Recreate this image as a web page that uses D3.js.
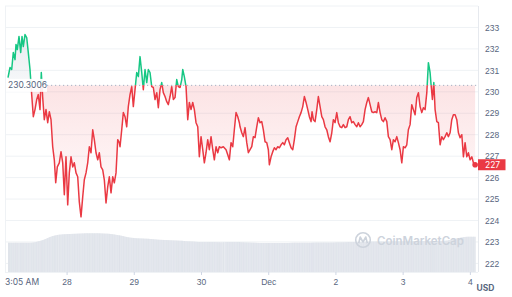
<!DOCTYPE html>
<html>
<head>
<meta charset="utf-8">
<script src="https://cdn.jsdelivr.net/npm/d3@7"></script>
<style>
  html, body { margin: 0; padding: 0; background: #fff; }
  svg { display: block; font-family: Inter, "Noto Sans", sans-serif; }
</style>
</head>
<body>
<script>
// price samples, hours after 27 Nov 03:05
const priceHours = [
  0,0.36,0.71,1.32,1.89,2.5,2.86,3.32,3.93,4.54,5.0,5.46,6.07,6.68,7.25,7.86,8.46,9.04,9.64,10.25,
  10.82,11.43,11.89,12.39,12.96,13.57,14.18,14.75,15.36,15.96,16.54,17.04,17.61,18.32,18.93,19.54,20.11,20.71,21.32,21.89,
  22.5,23.11,23.68,24.29,24.89,25.46,26.07,26.68,27.25,27.86,28.46,29.04,29.64,30.25,30.82,31.43,32.04,32.61,33.21,33.82,
  34.39,35.0,35.61,36.18,36.79,37.39,37.96,38.57,39.18,39.75,
  40.0,40.61,41.18,41.79,42.39,42.96,43.57,44.18,44.75,45.36,45.96,46.54,47.14,47.75,48.32,48.93,49.54,50.11,50.71,51.32,
  51.89,52.5,53.11,53.68,54.29,54.89,55.46,56.07,56.68,57.25,57.86,58.46,59.04,59.64,60.25,60.82,61.43,62.04,62.39,62.96,
  63.57,64.18,64.75,65.36,65.96,66.54,67.14,67.75,68.32,68.93,69.54,70.11,70.71,71.32,71.89,72.5,73.11,73.68,74.29,74.89,
  75.46,76.07,76.89,77.86,78.46,79.04,79.64,80.25,80.82,81.43,82.04,82.61,
  82.86,83.46,84.04,84.64,85.25,85.82,86.43,87.04,87.61,88.21,88.82,89.39,90.0,90.61,91.18,91.79,92.39,92.96,93.32,93.93,
  94.54,95.11,95.71,96.32,96.89,97.5,98.11,98.68,99.29,99.89,100.46,101.07,101.68,102.25,102.86,103.46,104.04,104.64,105.25,105.82,
  106.43,107.04,107.61,108.21,108.57,109.04,109.64,110.25,110.82,111.43,112.04,112.61,113.21,113.82,114.39,115.0,115.61,116.18,116.79,117.39,
  117.96,118.57,119.18,119.75,120.36,120.96,121.54,122.14,122.75,123.32,
  123.93,124.54,125.11,125.71,126.32,126.89,127.5,128.11,128.68,129.29,129.89,130.46,131.07,131.68,132.25,132.86,133.46,134.04,134.64,135.25,
  135.82,136.43,137.04,137.61,138.21,138.82,139.39,140.0,140.61,141.18,141.79,142.39,142.96,143.57,144.18,144.75,145.36,145.96,146.54,147.14,
  147.75,148.32,148.93,149.54,150.11,150.71,151.07,151.54,152.04,152.5,153.11,153.68,154.29,154.89,155.46,156.07,156.68,157.25,157.86,158.46,
  159.04,159.64,160.25,160.82,161.43,162.04,162.61,163.21,163.82,164.39,165.0,165.61,166.18,166.79
];
const prices = [
  230.66,230.90,231.13,231.04,231.83,231.50,232.21,231.97,232.58,231.83,232.58,232.11,232.67,232.53,231.83,231.04,229.87,228.84,229.17,229.64,
  229.87,229.17,230.90,229.73,228.70,229.17,228.56,229.07,228.70,227.44,226.83,225.76,226.50,226.69,227.21,226.69,225.20,226.97,224.73,226.22,
  226.97,226.50,226.69,226.22,226.04,224.87,224.17,225.10,225.90,226.22,226.69,227.44,227.16,228.23,227.77,227.16,226.83,227.16,226.50,226.36,
  225.90,224.82,225.57,226.04,225.29,226.04,225.76,226.22,227.77,227.63,
  227.44,228.23,229.03,228.84,228.37,229.31,229.87,230.24,229.31,230.10,230.90,230.71,231.64,230.90,230.10,231.04,230.43,231.04,230.90,230.24,
  230.20,229.64,229.96,229.26,230.10,230.43,229.96,229.78,229.54,229.40,229.78,230.24,229.64,229.73,230.57,230.24,230.20,230.57,231.04,230.71,
  230.24,228.70,229.50,229.17,229.50,229.17,228.56,228.37,226.97,227.91,227.30,226.69,227.16,227.77,227.30,227.91,227.30,226.83,227.44,227.16,
  227.44,227.39,227.44,227.30,227.07,226.83,227.63,227.44,228.23,229.03,228.84,228.56,
  228.37,228.09,227.91,228.33,227.63,227.16,227.30,227.44,227.91,227.86,228.37,228.79,228.56,228.61,228.23,227.67,227.63,227.30,226.60,226.97,
  227.21,227.39,227.30,227.44,227.39,227.53,227.63,227.53,227.77,227.86,227.63,227.39,227.30,227.77,228.37,228.61,228.84,229.03,229.31,229.78,
  229.50,229.17,228.84,228.61,229.07,228.70,228.61,229.17,229.78,229.31,228.84,228.70,228.37,228.23,227.91,227.67,228.09,228.70,228.56,229.03,
  228.56,228.37,228.33,228.47,228.33,228.37,228.70,228.84,228.56,228.61,
  228.47,228.37,228.56,228.37,228.47,228.61,229.17,229.50,229.73,229.40,229.07,229.03,229.07,229.03,229.50,229.03,228.70,228.61,228.79,228.61,
  227.91,227.77,227.30,227.77,227.67,227.91,227.63,227.30,226.69,227.44,227.39,227.53,228.23,228.47,229.40,229.17,228.93,229.73,229.96,229.31,
  229.03,229.26,229.17,229.96,231.36,230.90,230.33,229.64,230.43,229.17,228.61,228.56,227.53,227.91,227.77,227.91,228.09,227.91,228.09,228.70,
  228.93,228.93,228.70,228.09,227.86,228.00,226.97,227.63,226.97,227.16,226.83,226.97,226.69,226.60
];
// 24h volume (millions), hours after start
const volHours = [0,4,8,12,16,20,24,28,32,36,40,44,48,52,56,60,64,68,72,76,80,84,88,92,96,100,104,108,112,116,120,124,128,132,136,140,144,148,152,156,160,164,167];
const volumes = [293,293,293,315,360,378,382,387,387,382,365,342,335,328,320,314,307,301,299,298,300,297,292,290,290,290,292,293,294,295,297,299,302,304,305,307,308,309,310,312,335,353,353];
const yTicks = [222,223,224,225,226,227,228,229,230,231,232,233];
const gridValues = [222,223,224,225,226,227,228,229,230,231,232,233,234];
const basePrice = 230.3006;

const width = 512, height = 297;
const plotLeft = 5, plotRight = 478, plotTop = 6, plotBottom = 272;
const hour = 3600e3;
const startTime = new Date(2023, 10, 27, 3, 5);
const endTime = new Date(+startTime + 168 * hour);

const green = "#16c784", red = "#ea3943", textGrey = "#58667e";

const x = d3.scaleTime().domain([startTime, endTime]).range([8, 478.5]);
const y = d3.scaleLinear().domain([221.6, 234]).range([plotBottom, plotTop]);
const yVol = d3.scaleLinear().domain([0, 400]).range([plotBottom, 232]);

const points = prices.map((v, i) => ({ t: new Date(+startTime + priceHours[i] * hour), v: v }));
const volPoints = volumes.map((v, i) => ({ t: new Date(+startTime + volHours[i] * hour), v: v }));
const yBase = y(basePrice);

const svg = d3.select("body").append("svg")
  .attr("width", width)
  .attr("height", height);

const defs = svg.append("defs");
defs.append("clipPath").attr("id", "above")
  .append("rect").attr("x", 0).attr("y", 0).attr("width", width).attr("height", yBase);
defs.append("clipPath").attr("id", "below")
  .append("rect").attr("x", 0).attr("y", yBase).attr("width", width).attr("height", height - yBase);

const gAbove = defs.append("linearGradient").attr("id", "fillAbove")
  .attr("gradientUnits", "userSpaceOnUse").attr("x1", 0).attr("x2", 0).attr("y1", plotTop).attr("y2", yBase);
gAbove.append("stop").attr("offset", 0).attr("stop-color", "#b9c2d0").attr("stop-opacity", 0.4);
gAbove.append("stop").attr("offset", 1).attr("stop-color", "#b9c2d0").attr("stop-opacity", 0.12);

const gBelow = defs.append("linearGradient").attr("id", "fillBelow")
  .attr("gradientUnits", "userSpaceOnUse").attr("x1", 0).attr("x2", 0).attr("y1", yBase).attr("y2", 225);
gBelow.append("stop").attr("offset", 0).attr("stop-color", red).attr("stop-opacity", 0.14);
gBelow.append("stop").attr("offset", 1).attr("stop-color", red).attr("stop-opacity", 0);

// grid
svg.append("g").selectAll("line")
  .data(gridValues)
  .enter().append("line")
  .attr("x1", plotLeft).attr("x2", plotRight)
  .attr("y1", d => y(d)).attr("y2", d => y(d))
  .attr("stroke", "#eff2f5").attr("stroke-width", 1);

svg.append("line")
  .attr("x1", plotLeft + 0.5).attr("x2", plotLeft + 0.5)
  .attr("y1", plotTop).attr("y2", plotBottom)
  .attr("stroke", "#eff2f5");

// volume
const volArea = d3.area()
  .x(d => x(d.t))
  .y0(plotBottom)
  .y1(d => yVol(d.v))
  .curve(d3.curveMonotoneX);

defs.append("clipPath").attr("id", "volClip")
  .append("path").attr("d", volArea(volPoints));

svg.append("path")
  .attr("d", volArea(volPoints))
  .attr("fill", "#e8ebf0");

svg.append("g").attr("clip-path", "url(#volClip)")
  .selectAll("line")
  .data(points)
  .enter().append("line")
  .attr("x1", d => x(d.t)).attr("x2", d => x(d.t))
  .attr("y1", 225).attr("y2", plotBottom)
  .attr("stroke", "#d8dde5").attr("stroke-width", 0.6);

// watermark
const wm = svg.append("g").attr("transform", "translate(363,240)");
wm.append("circle").attr("r", 7.3).attr("fill", "none").attr("stroke", "#cdd3dc").attr("stroke-width", 1.6);
wm.append("path").attr("d", "M-4.3,3.2 L-2.8,-3 L0,2 L2.8,-3 L4.3,3.2")
  .attr("fill", "none").attr("stroke", "#cdd3dc").attr("stroke-width", 1.6).attr("stroke-linejoin", "round");
wm.append("text").attr("x", 14).attr("y", 4.5)
  .attr("font-size", 11.5).attr("font-weight", 600).attr("fill", "#cdd3dc")
  .text("CoinMarketCap");

// price fill and line
const area = d3.area().x(d => x(d.t)).y0(yBase).y1(d => y(d.v));
const line = d3.line().x(d => x(d.t)).y(d => y(d.v));

svg.append("path").attr("d", area(points)).attr("fill", "url(#fillAbove)").attr("clip-path", "url(#above)");
svg.append("path").attr("d", area(points)).attr("fill", "url(#fillBelow)").attr("clip-path", "url(#below)");

// baseline
svg.append("line")
  .attr("x1", 47).attr("x2", plotRight)
  .attr("y1", yBase).attr("y2", yBase)
  .attr("stroke", "#a6b0c3").attr("stroke-width", 1)
  .attr("stroke-dasharray", "1.2,2.8");

svg.append("path").attr("d", line(points)).attr("fill", "none")
  .attr("stroke", green).attr("stroke-width", 1.5).attr("stroke-linejoin", "round")
  .attr("clip-path", "url(#above)");
svg.append("path").attr("d", line(points)).attr("fill", "none")
  .attr("stroke", red).attr("stroke-width", 1.5).attr("stroke-linejoin", "round")
  .attr("clip-path", "url(#below)");

// baseline label
svg.append("rect")
  .attr("x", plotLeft + 1).attr("y", yBase - 6.5)
  .attr("width", 41).attr("height", 13)
  .attr("fill", "#fff").attr("fill-opacity", 0.92);
svg.append("text")
  .attr("x", 8).attr("y", yBase).attr("dy", "0.35em")
  .attr("font-size", 8.5).attr("fill", textGrey)
  .text(d3.format(".4f")(basePrice));

// right axis
svg.append("line")
  .attr("x1", plotRight + 0.5).attr("x2", plotRight + 0.5)
  .attr("y1", plotTop).attr("y2", plotBottom)
  .attr("stroke", "#e6e9ee");

const yAxis = svg.append("g")
  .attr("transform", `translate(${plotRight},0)`)
  .call(d3.axisRight(y).tickValues(yTicks).tickSize(0).tickPadding(7).tickFormat(d3.format("d")));
yAxis.select(".domain").remove();
yAxis.selectAll("text").attr("font-size", 8.5).attr("fill", textGrey).attr("font-family", null);

// bottom axis
const dayTicks = d3.timeDay.range(d3.timeDay.ceil(startTime), endTime);
const xAxis = svg.append("g")
  .attr("transform", `translate(0,${plotBottom})`)
  .call(d3.axisBottom(x).tickValues(dayTicks).tickSize(3).tickPadding(3.5)
    .tickFormat(d => d.getDate() === 1 ? d3.timeFormat("%b")(d) : d3.timeFormat("%-d")(d)));
xAxis.select(".domain").attr("stroke", "#eff2f5").attr("d", `M${plotLeft},0.5H${plotRight}`);
xAxis.selectAll(".tick line").attr("stroke", "#cfd6e4");
xAxis.selectAll("text").attr("font-size", 8.5).attr("fill", textGrey).attr("font-family", null);

svg.append("text")
  .attr("x", plotLeft).attr("y", 284.5)
  .attr("font-size", 8.5).attr("fill", textGrey)
  .text(d3.timeFormat("%-I:%M %p")(startTime));

svg.append("text")
  .attr("x", 476.5).attr("y", 291)
  .attr("font-size", 8.5).attr("font-weight", 700).attr("fill", textGrey)
  .text("USD");

// last price
const last = points[points.length - 1];
svg.append("circle")
  .attr("cx", x(last.t)).attr("cy", y(last.v)).attr("r", 2.8)
  .attr("fill", red);
svg.append("rect")
  .attr("x", plotRight).attr("y", y(last.v) - 5.5)
  .attr("width", 27.5).attr("height", 11)
  .attr("fill", red);
svg.append("text")
  .attr("x", plotRight + 7).attr("y", y(last.v)).attr("dy", "0.35em")
  .attr("font-size", 8.5).attr("fill", "#fff")
  .text(d3.format(".0f")(last.v));
</script>
</body>
</html>
